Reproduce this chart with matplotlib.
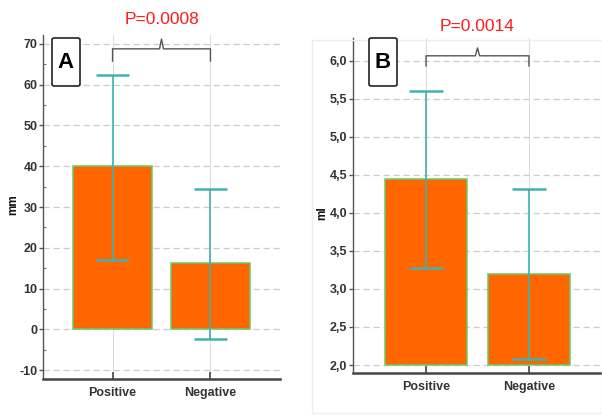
import matplotlib
matplotlib.use("Agg")
import matplotlib.pyplot as plt
from matplotlib.patches import Rectangle, FancyBboxPatch
from matplotlib.ticker import MultipleLocator, FuncFormatter

plt.rcParams['font.family'] = ['Liberation Sans', 'DejaVu Sans']

categories = ["Positive", "Negative"]

# Panel A (mm)
a_means = [40.0, 16.3]
a_upper = [62.5, 34.5]
a_lower = [17.0, -2.3]
a_pvalue = "P=0.0008"

# Panel B (ml)
b_means = [4.44, 3.20]
b_upper = [5.60, 4.32]
b_lower = [3.28, 2.08]
b_base = 2.0
b_pvalue = "P=0.0014"

W, H = 602, 417
fig = plt.figure(figsize=(W / 100, H / 100), dpi=100)

ORANGE = "#FF6600"
EDGE = "#66CC66"
TEAL = "#3FB2B2"
TICKC = "#333333"
GRIDC = "#CCCCCC"


def fr(x0, y0, x1, y1):
    return [x0 / W, 1 - y1 / H, (x1 - x0) / W, (y1 - y0) / H]


def panel(rect, means, upper, lower, base, ylim, major, minor, fmt, ylabel, ylabel_xy,
          bracket, ptext, label, labelbox):
    ax = fig.add_axes(rect)
    x = list(range(len(categories)))
    heights = [m - base for m in means]
    ax.bar(x, heights, bottom=base, width=0.8, color=ORANGE, edgecolor=EDGE,
           linewidth=1.1, zorder=3)
    for xi, m, u, l in zip(x, means, upper, lower):
        ax.vlines(xi, l, u, color=TEAL, linewidth=1.2, zorder=4)
        ax.hlines([u, l], xi - 0.165, xi + 0.165, color=TEAL, linewidth=1.8, zorder=4)
    ax.set_xlim(-0.71, 1.71)
    ax.set_ylim(*ylim)
    ax.yaxis.set_major_locator(MultipleLocator(major))
    if minor:
        ax.yaxis.set_minor_locator(MultipleLocator(minor))
    ax.yaxis.set_major_formatter(FuncFormatter(fmt))
    ax.set_xticks(x)
    ax.set_xticklabels(categories, fontsize=9, fontweight='bold', color=TICKC)
    ax.tick_params(axis='y', which='major', direction='out', length=3, width=1,
                   color='#555555', labelsize=9, labelcolor=TICKC, pad=1)
    ax.tick_params(axis='y', which='minor', direction='in', length=2, width=0.8,
                   color='#777777')
    ax.tick_params(axis='x', which='major', direction='in', length=5, width=1.2,
                   color='#444444', pad=6)
    for lab in ax.get_yticklabels():
        lab.set_fontweight('bold')
    ax.grid(axis='y', which='major', linestyle=(0, (5, 3)), color=GRIDC,
            linewidth=0.9, zorder=0)
    ax.grid(axis='x', which='major', linestyle='-', color='#DDDDDD',
            linewidth=0.8, zorder=0)
    for s in ['top', 'right']:
        ax.spines[s].set_visible(False)
    ax.spines['left'].set_color('#555555')
    ax.spines['left'].set_linewidth(1.0)
    ax.spines['bottom'].set_color('#444444')
    ax.spines['bottom'].set_linewidth(1.8)
    fig.text(ylabel_xy[0] / W, 1 - ylabel_xy[1] / H, ylabel, fontsize=8.5,
             fontweight='bold', rotation=90, ha='center', va='center', color='#111111')
    # bracket
    yb, yend, ytip, ytxt = bracket
    ax.plot([0, 0, 0.48, 0.5, 0.52, 1, 1], [yend, yb, yb, ytip, yb, yb, yend],
            color='#555555', linewidth=1.0, clip_on=False, zorder=5)
    ax.text(0.5, ytxt, ptext, color='#FF1A1A', fontsize=12.5, ha='center',
            va='center', clip_on=False)
    # label box
    x0, y0, x1, y1 = labelbox
    box = FancyBboxPatch((x0 / W, 1 - y1 / H), (x1 - x0) / W, (y1 - y0) / H,
                         boxstyle="round,pad=0,rounding_size=0.004",
                         transform=fig.transFigure, facecolor='white',
                         edgecolor='#222222', linewidth=1.2, zorder=10)
    fig.patches.append(box)
    fig.text((x0 + x1) / 2 / W, 1 - (y0 + y1) / 2 / H, label, fontsize=16,
             fontweight='bold', ha='center', va='center', zorder=11)
    return ax


# faint panel border for B
fig.patches.append(Rectangle((312 / W, 1 - 413 / H), (602 - 312) / W, (413 - 40) / H,
                             transform=fig.transFigure, facecolor='none',
                             edgecolor='#EEEEEE', linewidth=1.0, zorder=0))

axA = panel(fr(43, 35, 280, 379), a_means, a_upper, a_lower, 0.0, (-12.2, 72.2),
            10, 5, lambda v, p: f"{v:.0f}", "mm", (13, 205),
            (68.8, 65.8, 71.2, 76.0), a_pvalue, "A", (52, 38, 80, 86))

axB = panel(fr(353, 38, 602, 373), b_means, b_upper, b_lower, b_base, (1.895, 6.30),
            0.5, None, lambda v, p: f"{v:.1f}".replace('.', ','), "ml", (322, 213),
            (6.066, 5.934, 6.17, 6.45), b_pvalue, "B", (369, 38, 397, 86))

fig.savefig("out.png", dpi=100)
